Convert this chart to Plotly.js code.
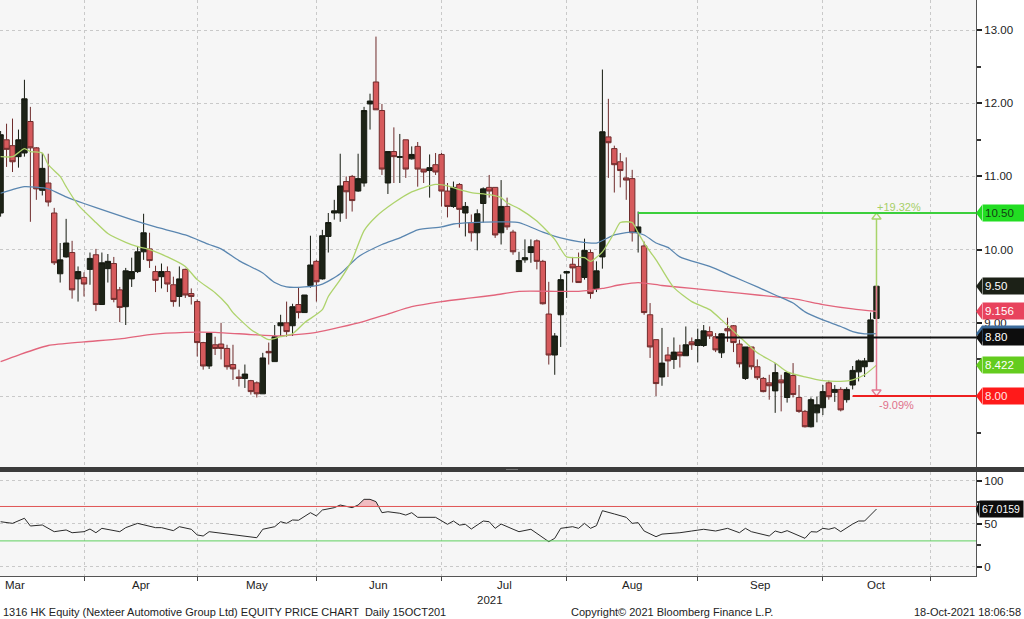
<!DOCTYPE html>
<html><head><meta charset="utf-8">
<script src="https://cdn.plot.ly/plotly-3.0.1.min.js"></script>
<style>html,body{margin:0;padding:0;background:#fff;}#chart{width:1024px;height:619px;}</style>
</head><body><div id="chart"></div>
<script>
// ---------- DATA ----------
const monthNames = ['Mar','Apr','May','Jun','Jul','Aug','Sep','Oct'];
const monthStartIdx = [-9,14,33,53,74,95,117,138,156];
const yearLabel = '2021';

const open = [
10.50,11.50,11.42,11.27,11.32,11.75,11.39,10.81,10.91,10.50,
9.67,9.90,9.96,9.60,9.62,9.73,9.93,9.25,9.74,9.81,
9.45,9.22,9.60,9.70,9.97,10.01,9.70,9.63,9.70,9.52,
9.36,9.73,9.40,9.29,8.73,8.41,8.70,8.71,8.65,8.43,
8.26,8.24,8.21,8.18,8.03,8.61,8.47,8.96,9.00,8.96,
9.25,9.14,9.51,9.84,9.60,10.18,10.50,10.50,10.93,11.00,
10.80,10.91,11.99,12.29,11.90,10.91,11.34,11.26,11.50,11.24,
11.41,11.10,11.08,11.16,11.30,10.80,10.59,10.89,10.50,10.37,
10.23,10.63,10.85,10.85,10.23,10.59,10.24,9.70,9.86,9.96,
10.12,9.84,9.12,8.56,9.11,9.68,9.80,9.77,9.62,9.96,
9.47,9.90,11.54,11.38,11.20,10.98,10.97,10.23,10.05,9.11,
8.77,8.26,8.56,8.50,8.60,8.55,8.74,8.69,8.69,8.88,
8.81,8.59,8.92,8.96,8.71,8.24,8.67,8.40,8.24,8.18,
8.07,8.22,7.98,8.28,7.98,7.79,7.58,7.77,7.84,8.18,
8.05,8.09,7.95,8.15,8.33,8.40,8.47,9.06];
const high = [
11.62,11.72,11.79,11.64,12.32,11.95,11.40,11.32,11.31,10.57,
10.09,10.42,10.12,9.77,9.69,9.96,10.01,9.96,9.94,9.90,
9.49,9.75,9.89,10.05,10.49,10.23,9.78,9.81,9.77,9.63,
9.77,9.74,9.47,9.32,8.74,8.86,8.81,9.00,8.70,8.70,
8.36,8.43,8.22,8.20,8.59,8.73,8.97,9.11,9.29,9.26,
9.49,9.38,10.19,9.86,10.27,10.50,10.68,11.31,11.00,11.02,
11.31,11.95,12.13,12.91,11.99,11.34,11.67,11.58,11.50,11.41,
11.47,11.10,11.30,11.32,11.32,10.91,10.93,10.91,10.65,10.48,
10.55,10.85,11.02,10.85,10.95,10.71,10.27,9.97,10.14,10.14,
10.14,9.86,9.56,8.86,9.66,9.70,9.90,9.96,10.15,10.00,
9.84,12.46,12.06,11.42,11.32,11.26,11.09,10.52,10.11,9.27,
8.77,8.93,8.67,8.80,8.70,8.95,8.80,8.92,8.97,8.95,
8.86,8.86,9.07,8.97,8.77,8.67,8.67,8.50,8.26,8.29,
8.45,8.29,8.33,8.45,8.15,7.81,7.98,7.99,8.15,8.21,
8.15,8.12,8.12,8.41,8.50,8.52,9.14,9.52];
const low = [
10.45,11.13,11.06,11.12,11.27,10.38,10.68,10.74,10.59,9.79,
9.55,9.89,9.33,9.29,9.36,9.52,9.16,9.25,9.55,9.28,
9.01,8.97,9.49,9.68,9.86,9.75,9.42,9.47,9.42,9.22,
9.22,9.34,9.25,8.54,8.36,8.37,8.56,8.50,8.36,8.22,
8.13,8.11,8.02,7.98,8.03,8.43,8.47,8.81,8.81,8.82,
9.06,9.14,9.48,9.29,9.59,9.96,10.41,10.38,10.42,10.52,
10.79,10.86,11.64,11.91,11.02,10.76,10.91,10.91,10.98,11.23,
10.86,10.91,10.71,11.02,10.59,10.44,10.57,10.30,10.18,10.11,
9.99,10.37,10.71,10.16,10.07,10.27,9.93,9.70,9.82,9.82,
9.73,9.25,8.43,8.29,8.67,9.34,9.55,9.55,9.59,9.33,
9.42,9.74,10.98,10.78,10.85,10.68,10.11,9.96,9.11,8.52,
8.00,8.14,8.26,8.37,8.39,8.55,8.63,8.46,8.67,8.78,
8.60,8.52,8.74,8.60,8.39,8.22,8.36,8.22,8.05,7.95,
7.77,7.79,7.91,7.98,7.77,7.57,7.57,7.64,7.74,7.95,
7.92,7.79,7.91,8.09,8.20,8.26,8.47,9.06];
const close = [
11.57,11.37,11.20,11.50,12.06,11.39,10.83,11.11,10.65,9.82,
9.86,10.09,9.45,9.70,9.53,9.88,9.25,9.82,9.84,9.32,
9.21,9.71,9.70,9.97,10.23,9.85,9.58,9.70,9.53,9.29,
9.60,9.38,9.36,8.73,8.41,8.86,8.65,8.65,8.40,8.37,
8.24,8.30,8.06,8.03,8.52,8.59,8.81,9.00,8.88,9.22,
9.14,9.38,9.79,9.56,10.19,10.37,10.53,10.87,10.79,10.67,
10.97,11.90,12.03,11.91,11.10,11.34,11.27,11.27,11.10,11.30,
11.10,11.06,11.12,11.06,10.80,10.59,10.85,10.55,10.59,10.23,
10.49,10.83,10.80,10.20,10.59,10.31,9.97,9.85,9.89,10.04,
9.84,9.26,8.56,8.82,9.59,9.70,9.75,9.55,9.99,9.40,
9.71,11.61,11.46,11.16,11.08,10.95,10.23,10.31,9.14,8.67,
8.17,8.45,8.48,8.60,8.55,8.70,8.70,8.77,8.89,8.82,
8.63,8.85,8.89,8.73,8.44,8.67,8.40,8.25,8.06,8.14,
8.32,8.18,8.32,8.02,7.79,7.58,7.95,7.88,8.06,7.99,
8.09,7.81,8.09,8.35,8.48,8.48,9.04,9.50];

// moving averages (candle index, value)
const maGreenIdx = [0,2,4,5,7,8,10,11,13,16,18,21,23,25,28,31,33,36,38,39,42,44,45,47,49,51,54,55,57,59,61,63,66,69,73,75,77,79,82,84,85,87,90,93,95,98,99,101,103,104,106,107,108,110,111,113,116,119,121,124,127,130,132,135,138,141,143,145,147];
const maGreen = [11.27,11.27,11.38,11.34,11.32,11.16,11.00,10.86,10.61,10.37,10.22,10.10,10.04,10.00,9.90,9.77,9.59,9.41,9.25,9.14,8.91,8.81,8.77,8.81,8.85,9.00,9.18,9.36,9.59,9.86,10.26,10.45,10.64,10.79,10.89,10.87,10.82,10.78,10.75,10.71,10.64,10.56,10.39,10.14,9.90,9.89,9.84,9.97,10.23,10.37,10.37,10.23,10.09,9.86,9.73,9.48,9.29,9.18,9.04,8.81,8.59,8.45,8.33,8.26,8.21,8.20,8.22,8.29,8.422];
const maBlueIdx = [0,2,4,8,11,14,18,22,26,31,35,37,40,44,46,48,51,54,57,60,64,67,70,74,76,79,84,87,88,91,94,97,100,103,106,108,110,112,114,119,123,127,130,133,135,138,141,143,145,147];
const maBlue = [10.77,10.82,10.86,10.83,10.72,10.63,10.52,10.41,10.31,10.20,10.07,10.01,9.85,9.68,9.55,9.49,9.49,9.53,9.67,9.90,10.07,10.16,10.27,10.31,10.35,10.37,10.38,10.37,10.34,10.24,10.16,10.11,10.09,10.20,10.24,10.20,10.09,10.03,9.90,9.77,9.63,9.49,9.38,9.27,9.15,9.04,8.95,8.88,8.85,8.853];
const maRedIdx = [0,3,8,14,20,25,31,36,42,47,53,57,61,65,69,74,79,83,87,93,97,101,104,107,111,116,121,127,133,138,143,147];
const maRed = [8.47,8.56,8.69,8.74,8.78,8.84,8.87,8.87,8.84,8.82,8.87,8.94,9.02,9.12,9.22,9.29,9.34,9.38,9.43,9.43,9.43,9.47,9.52,9.55,9.51,9.47,9.43,9.38,9.33,9.25,9.19,9.156];

// RSI
const rsiIdx = [0,2,4,5,7,9,11,12,14,15,16,17,20,21,23,26,27,29,30,32,33,34,35,37,39,41,43,44,46,47,48,49,50,52,53,54,56,57,59,60,61,62,63,64,65,67,68,69,70,73,75,76,77,78,79,81,82,83,84,86,87,89,90,92,93,94,96,97,98,99,100,101,103,105,106,107,108,110,111,114,116,118,120,122,124,125,126,129,130,131,132,135,136,137,138,139,140,141,143,144,145,146,147];
const rsi = [52.3,50.4,56.3,47.3,48.5,40.7,42.7,39.5,40.7,43.8,39.5,44.6,40.7,45.4,50.4,45.4,45.4,41.9,46.5,43.5,36.9,35.7,40.7,38.8,36.9,35.7,33.7,43.5,46.5,52.3,50.4,54.3,54.0,62.8,59.0,65.9,68.6,71.7,68.6,71.7,78.3,78.3,75.6,62.8,63.9,62.1,60.0,62.8,57.4,57.4,49.3,53.1,48.3,49.3,43.8,53.1,52.3,44.6,49.6,43.6,40.7,43.5,38.8,29.1,33.0,44.6,46.5,44.6,50.4,44.6,47.7,65.1,61.3,57.4,50.4,51.2,41.5,34.9,37.9,39.5,41.5,43.5,41.5,44.6,39.5,44.6,40.7,35.7,41.5,39.5,41.9,33.0,40.7,40.3,44.6,43.5,45.4,40.7,49.6,53.1,53.1,60.1,67.0159];
const rsiUpper = 70, rsiLower = 30;

// price levels
const levelValues = [10.50, 8.80, 8.00];
const levelStartIdx = [107, 120, 143];
const refLevel = 8.80;

// ---------- GEOMETRY / STYLE ----------
const FONT = 'Liberation Sans, Arial, sans-serif';
const plotH = 576;
const xRange = [-0.1, 163.7];
const yRange = [7.03, 13.41];
const rsiRange = [-10.8, 110.1];
const mainDomain = [0.1892, 1];
const rsiDomain = [0, 0.1806];
const pxPerPrice = (mainDomain[1]-mainDomain[0])*plotH/(yRange[1]-yRange[0]);
const pxPerRsi = (rsiDomain[1]-rsiDomain[0])*plotH/(rsiRange[1]-rsiRange[0]);
const idx = open.map((_, i) => i);
const lastI = idx[idx.length-1];
const lastClose = close[close.length-1];
const cGreenMA = '#aed36c', cBlueMA = '#5a86b0', cRedMA = '#e2657c';

const traces = [];
traces.push({x: maRedIdx, y: maRed, type:'scatter', mode:'lines', line:{color:cRedMA, width:1.3, shape:'spline', smoothing:0.6}, hoverinfo:'skip'});
traces.push({x: maBlueIdx, y: maBlue, type:'scatter', mode:'lines', line:{color:cBlueMA, width:1.3, shape:'spline', smoothing:0.6}, hoverinfo:'skip'});
traces.push({x: maGreenIdx, y: maGreen, type:'scatter', mode:'lines', line:{color:cGreenMA, width:1.3, shape:'spline', smoothing:0.6}, hoverinfo:'skip'});

// arrows
const triSize = 8, triR = triSize/2;
const upApex = levelValues[0], dnApex = levelValues[2];
const upCenter = upApex - triR/pxPerPrice, upBase = upCenter - (triR/2)/pxPerPrice;
const dnCenter = dnApex + triR/pxPerPrice, dnBase = dnCenter + (triR/2)/pxPerPrice;
traces.push({x:[lastI,lastI], y:[refLevel, upBase], type:'scatter', mode:'lines', line:{color:'#a8d46a', width:1.5}, hoverinfo:'skip'});
traces.push({x:[lastI,lastI], y:[lastClose, dnBase], type:'scatter', mode:'lines', line:{color:'#e47a92', width:1.5}, hoverinfo:'skip'});

traces.push({
  type:'candlestick', x: idx, open, high, low, close,
  increasing:{line:{color:'#161b11', width:1}, fillcolor:'#1d2317'},
  decreasing:{line:{color:'#6f2c2c', width:1}, fillcolor:'#d65a5c'},
  whiskerwidth:0, hoverinfo:'skip', xaxis:'x', yaxis:'y'
});
traces.push({x:[lastI], y:[upCenter], type:'scatter', mode:'markers', marker:{symbol:'triangle-up-open', size:triSize, color:'#a8d46a', line:{width:1.3}}, hoverinfo:'skip', cliponaxis:false});
traces.push({x:[lastI], y:[dnCenter], type:'scatter', mode:'markers', marker:{symbol:'triangle-down-open', size:triSize, color:'#e47a92', line:{width:1.3}}, hoverinfo:'skip', cliponaxis:false});

// RSI with shading above upper band (crossings computed from data)
const capX = [], capY = [];
for (let k = 0; k < rsi.length; k++) {
  if (k > 0) {
    const a = rsi[k-1], b = rsi[k];
    if ((a - rsiUpper)*(b - rsiUpper) < 0) {
      const t = (rsiUpper - a)/(b - a);
      capX.push(rsiIdx[k-1] + t*(rsiIdx[k]-rsiIdx[k-1])); capY.push(rsiUpper);
    }
  }
  capX.push(rsiIdx[k]); capY.push(Math.max(rsi[k], rsiUpper));
}
traces.push({x: capX, y: capX.map(() => rsiUpper), type:'scatter', mode:'lines', line:{width:0, color:'rgba(0,0,0,0)'}, xaxis:'x2', yaxis:'y2', hoverinfo:'skip'});
traces.push({x: capX, y: capY, type:'scatter', mode:'lines', fill:'tonexty', fillcolor:'rgba(236,140,150,0.55)', line:{width:0, color:'rgba(0,0,0,0)'}, xaxis:'x2', yaxis:'y2', hoverinfo:'skip'});
traces.push({x: rsiIdx, y: rsi, type:'scatter', mode:'lines', line:{color:'#2a2a2a', width:1}, xaxis:'x2', yaxis:'y2', hoverinfo:'skip'});

// ---------- SHAPES ----------
const shapes = [];
const levelColors = ['#3ccf3c', '#111111', '#ee2020'];
levelValues.forEach((v, k) => {
  shapes.push({type:'line', xref:'x', yref:'y', x0: levelStartIdx[k], x1: xRange[1], y0: v, y1: v, line:{color: levelColors[k], width:2}});
});
shapes.push({type:'line', xref:'paper', yref:'y2', x0:0, x1:1, y0:rsiUpper, y1:rsiUpper, line:{color:'#e05555', width:1}});
shapes.push({type:'line', xref:'paper', yref:'y2', x0:0, x1:1, y0:rsiLower, y1:rsiLower, line:{color:'#5fd05f', width:1}});
// panel separator
shapes.push({type:'rect', xref:'paper', yref:'paper', x0:0, x1:1050/976, y0:rsiDomain[1], y1:mainDomain[0], fillcolor:'#3b3b3b', line:{width:0}});
shapes.push({type:'rect', xref:'paper', yref:'paper', x0:506/976, x1:518/976, y0:(576-469.6)/576, y1:(576-469)/576, fillcolor:'#9a9a9a', line:{width:0}});

// right-hand value tags (the blue MA tag sits under the 8.80 tag, its text hidden as in the original)
const tags = [
  {v: levelValues[0], text: levelValues[0].toFixed(2), bg:'#22dd22', fg:'#123d12', ax:'y'},
  {v: lastClose, text: lastClose.toFixed(2), bg:'#1c2117', fg:'#ffffff', ax:'y'},
  {v: maRed[maRed.length-1], text: maRed[maRed.length-1].toFixed(3), bg:'#e8435d', fg:'#ffffff', ax:'y'},
  {v: maBlue[maBlue.length-1], text: null, bg:'#3c6c9c', fg:'#ffffff', ax:'y'},
  {v: levelValues[1], text: levelValues[1].toFixed(2), bg:'#0d0d0d', fg:'#ffffff', ax:'y'},
  {v: maGreen[maGreen.length-1], text: maGreen[maGreen.length-1].toFixed(3), bg:'#64cc1e', fg:'#ffffff', ax:'y'},
  {v: levelValues[2], text: levelValues[2].toFixed(2), bg:'#ff1a1a', fg:'#ffe8e8', ax:'y'},
  {v: rsi[rsi.length-1], text: rsi[rsi.length-1].toFixed(4), bg:'#0d0d0d', fg:'#ffffff', ax:'y2'}
];
const tipX = 1, baseX = 982/976, endX = 1024/976;
const annotations = [];
tags.forEach(t => {
  const h = 8/(t.ax === 'y' ? pxPerPrice : pxPerRsi);
  if (t.text === null) {
    shapes.push({type:'path', xref:'paper', yref:t.ax, path:`M ${tipX},${t.v} L ${baseX},${t.v+h} L ${endX},${t.v+h} L ${endX},${t.v-h} L ${baseX},${t.v-h} Z`, fillcolor:t.bg, line:{width:0}});
    return;
  }
  const isRsi = t.ax === 'y2';
  const bx = isRsi ? 979/976 : baseX;
  shapes.push({type:'path', xref:'paper', yref:t.ax, path:`M ${tipX},${t.v} L ${bx},${t.v+h} L ${bx},${t.v-h} Z`, fillcolor:t.bg, line:{width:0}});
  annotations.push({xref:'paper', yref:t.ax, x:1, y:t.v, xanchor:'left', yanchor:'middle', xshift: isRsi ? 3 : 6, text:t.text, showarrow:false,
    bgcolor:t.bg, font:{family:FONT, size: isRsi ? 10.5 : 11.5, color:t.fg}, width: isRsi ? 39 : 38, height:12, borderpad:2, align:'left'});
});

// percentage labels
const upPct = (levelValues[0]/refLevel - 1)*100, dnPct = (levelValues[2]/refLevel - 1)*100;
annotations.push({xref:'x', yref:'y', x:lastI, y:levelValues[0], xanchor:'left', yanchor:'bottom', xshift:-1, yshift:-2, text:'+' + upPct.toFixed(2) + '%', showarrow:false, font:{family:FONT, size:11, color:'#a6cf66'}});
annotations.push({xref:'x', yref:'y', x:lastI, y:levelValues[2], xanchor:'left', yanchor:'top', xshift:1, yshift:-1, text:dnPct.toFixed(2) + '%', showarrow:false, font:{family:FONT, size:11, color:'#e0708a'}});

// month labels
monthNames.forEach((m, k) => {
  const mid = (monthStartIdx[k] + monthStartIdx[k+1])/2;
  annotations.push({xref:'x2', yref:'paper', x: mid, y:0, yanchor:'top', yshift:-1, text:m, showarrow:false, font:{family:FONT, size:11.5, color:'#222'}});
  if (m === 'Jul') annotations.push({xref:'x2', yref:'paper', x: mid, y:0, yanchor:'top', xshift:-14, yshift:-16, text:yearLabel, showarrow:false, font:{family:FONT, size:11.5, color:'#222'}});
});

// footer
const footY = (576-612)/576;
annotations.push({xref:'paper', yref:'paper', x:0, y:footY, xanchor:'left', yanchor:'middle', xshift:1, text:'1316 HK Equity (Nexteer Automotive Group Ltd) EQUITY PRICE CHART  Daily 15OCT201', showarrow:false, font:{family:FONT, size:11, color:'#222'}});
annotations.push({xref:'paper', yref:'paper', x:569/976, y:footY, xanchor:'left', yanchor:'middle', text:'Copyright© 2021 Bloomberg Finance L.P.', showarrow:false, font:{family:FONT, size:11, color:'#222'}});
annotations.push({xref:'paper', yref:'paper', x:1023/976, y:footY, xanchor:'right', yanchor:'middle', text:'18-Oct-2021 18:06:58', showarrow:false, font:{family:FONT, size:11, color:'#222'}});

const gridC = '#c9c9c9';
const layout = {
  width:1024, height:619, margin:{l:0, r:48, t:0, b:43},
  paper_bgcolor:'#ffffff', plot_bgcolor:'#f6f6f6',
  showlegend:false, boxgap:0.1, boxgroupgap:0,
  font:{family:FONT, size:11, color:'#222'},
  xaxis:{domain:[0,1], anchor:'y', range:xRange, tickvals:monthStartIdx.slice(1), showticklabels:false, ticks:'',
    showgrid:true, gridcolor:gridC, griddash:'dot', gridwidth:1, zeroline:false, showline:false, rangeslider:{visible:false}, fixedrange:true},
  xaxis2:{domain:[0,1], anchor:'y2', range:xRange, tickvals:monthStartIdx.slice(1), showticklabels:false, ticks:'outside', ticklen:4, tickcolor:'#444',
    showgrid:true, gridcolor:gridC, griddash:'dot', gridwidth:1, zeroline:false, showline:true, linecolor:'#555', linewidth:1, rangeslider:{visible:false}, fixedrange:true},
  yaxis:{domain:mainDomain, anchor:'x', side:'right', range:yRange, dtick:1, tick0:0, tickformat:'.2f', ticks:'outside', ticklen:5, tickwidth:2, tickcolor:'#222',
    showline:true, linecolor:'#555', linewidth:1, showgrid:true, gridcolor:gridC, griddash:'dot', zeroline:false,
    minor:{dtick:0.5, tick0:0, ticks:'outside', ticklen:4, tickcolor:'#333', showgrid:false},
    tickfont:{family:FONT, size:11.5, color:'#222'}, fixedrange:true},
  yaxis2:{domain:rsiDomain, anchor:'x2', side:'right', range:rsiRange, tickvals:[0,50,100], ticks:'outside', ticklen:5, tickwidth:2, tickcolor:'#222',
    showline:true, linecolor:'#555', linewidth:1, showgrid:true, gridcolor:gridC, griddash:'dot', zeroline:false,
    minor:{tickvals:[25,75], ticks:'outside', ticklen:4, tickcolor:'#333', showgrid:false},
    tickfont:{family:FONT, size:11.5, color:'#222'}, fixedrange:true},
  shapes, annotations
};
Plotly.newPlot('chart', traces, layout, {staticPlot:true, displayModeBar:false});
</script>
</body></html>
